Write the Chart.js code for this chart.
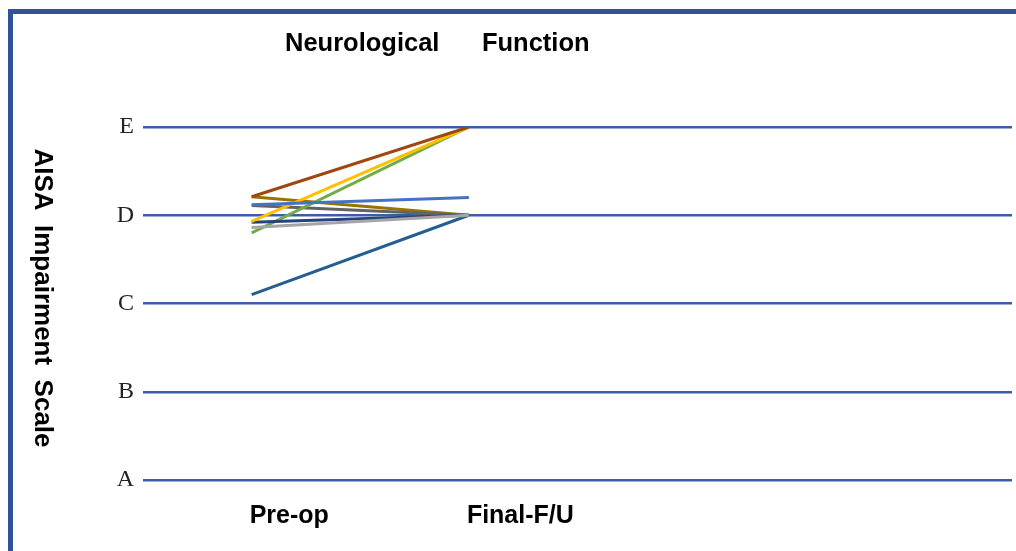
<!DOCTYPE html>
<html><head><meta charset="utf-8">
<script src="https://cdn.jsdelivr.net/npm/chart.js@4.4.1/dist/chart.umd.min.js"></script>
<style>
html,body{margin:0;padding:0;background:#fff;width:1016px;height:551px;overflow:hidden}
#frame{position:absolute;left:8px;top:9px;width:1100px;height:700px;border-left:5px solid #2F5597;border-top:5px solid #2F5597;box-sizing:border-box}
#wrap{position:absolute;left:0;top:0;width:1016px;height:551px}
</style></head><body>
<div id="frame"></div>
<div id="wrap"><canvas id="c"></canvas></div>
<script>
// x categories and their positions on the x value axis
const categories = ['Pre-op', 'Final-F/U'];
const categoryX = [1, 3];
// AIS grade tick labels (value 1..5)
const gradeLabels = ['A', 'B', 'C', 'D', 'E'];
// per-patient grade values [pre-op, final F/U]
const patient1 = [4.12, 4.20];
const patient2 = [4.21, 5.00];
const patient3 = [3.86, 4.00];
const patient4 = [3.93, 5.00];
const patient5 = [3.92, 4.00];
const patient6 = [3.80, 5.00];
const patient7 = [4.11, 4.00];
const patient8 = [4.21, 4.00];
const patient9 = [3.10, 4.00];
const chartTitle = 'Neurological      Function';
const yTitle = 'AISA  Impairment  Scale';

const series = [patient1, patient2, patient3, patient4, patient5, patient6, patient7, patient8, patient9];
const colors = ['#4472C4', '#9E480E', '#A5A5A5', '#FFC000', '#264478', '#70AD47', '#636363', '#997300', '#255E91'];

const datasets = series.map((vals, i) => ({
  label: 'Patient ' + (i + 1),
  data: vals.map((v, j) => ({ x: categoryX[j], y: v })),
  borderColor: colors[i],
  backgroundColor: colors[i],
  borderWidth: 3,
  pointRadius: 0,
  tension: 0
}));

const textPlugin = {
  id: 'texts',
  afterDraw(chart) {
    const ctx = chart.ctx;
    ctx.save();
    ctx.fillStyle = '#000';
    ctx.font = 'bold 25.5px "Liberation Sans", Arial, sans-serif';
    ctx.textAlign = 'left';
    ctx.textBaseline = 'alphabetic';
    ctx.fillText(chartTitle, 285, 51);
    ctx.translate(42, 298);
    ctx.rotate(Math.PI / 2);
    ctx.textAlign = 'center';
    ctx.textBaseline = 'middle';
    ctx.font = 'bold 26px "Liberation Sans", Arial, sans-serif';
    ctx.fillText(yTitle, 0, 0);
    ctx.restore();
  }
};

new Chart(document.getElementById('c'), {
  type: 'line',
  data: { datasets },
  options: {
    responsive: true,
    maintainAspectRatio: false,
    animation: false,
    layout: { padding: { left: 113, right: 4, top: 127, bottom: 1 } },
    plugins: { legend: { display: false }, tooltip: { enabled: false }, title: { display: false } },
    scales: {
      x: {
        type: 'linear',
        min: 0,
        max: 8,
        afterBuildTicks(scale) { scale.ticks = categoryX.map(v => ({ value: v })); },
        afterFit(scale) { scale.height = 70; },
        grid: { display: false, drawTicks: false },
        border: { display: false },
        ticks: {
          autoSkip: false,
          maxRotation: 0,
          align: 'start',
          labelOffset: -2,
          padding: 21,
          color: '#000',
          font: { family: '"Liberation Sans", Arial, sans-serif', size: 25, weight: 'bold' },
          callback(v) { const i = categoryX.indexOf(v); return i >= 0 ? categories[i] : ''; }
        }
      },
      y: {
        min: 1,
        max: 5,
        afterFit(scale) { scale.width = 30; },
        grid: { color: '#3A5DA5', lineWidth: 2.5, drawTicks: false },
        border: { display: false },
        ticks: {
          stepSize: 1,
          padding: 9,
          color: '#222',
          font: { family: '"Liberation Serif", "Times New Roman", serif', size: 24 },
          callback(v) { return gradeLabels[v - 1]; }
        }
      }
    }
  },
  plugins: [textPlugin]
});
</script>
</body></html>
